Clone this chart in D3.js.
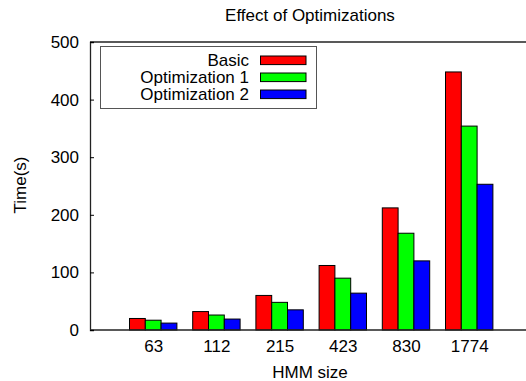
<!DOCTYPE html>
<html><head><meta charset="utf-8">
<script src="https://cdn.jsdelivr.net/npm/d3@7"></script>
<style>body{margin:0;background:#fff}svg{display:block;font-family:"Liberation Sans",Arial,sans-serif}</style>
</head><body><svg id="c" width="526" height="381"></svg>
<script>
const categories = ["63","112","215","423","830","1774"];
const seriesNames = ["Basic","Optimization 1","Optimization 2"];
const basic = [20, 32, 60, 112, 212, 448];
const opt1 = [17, 26, 48, 90, 168, 354];
const opt2 = [12, 19, 35, 64, 120, 253];
const yTicks = [0,100,200,300,400,500];
const colors = ["#ff0000","#00ff00","#0000ff"];
const series = [basic, opt1, opt2];

(function(){
const svg = d3.select("#c");
const fs = 17;
const mLeft = 90, mTop = 42, mBottom = 330;
const x = d3.scaleLinear().domain([-1, 7]).range([mLeft, mLeft + 8*63.2]);
const y = d3.scaleLinear().domain([0, 500]).range([mBottom, mTop]);
const barW = 15.8;

series.forEach((vals, s) => {
  svg.append("g").selectAll("rect").data(vals).join("rect")
    .attr("x", (d,i) => x(i) - 1.5*barW + s*barW)
    .attr("y", d => y(d))
    .attr("width", barW)
    .attr("height", d => y(0) - y(d))
    .attr("fill", colors[s])
    .attr("stroke", "#000").attr("stroke-width", 1);
});

svg.append("line").attr("x1", mLeft).attr("x2", 526).attr("y1", mTop).attr("y2", mTop).attr("stroke","#222").attr("stroke-width",1.3);
svg.append("line").attr("x1", mLeft).attr("x2", 526).attr("y1", mBottom).attr("y2", mBottom).attr("stroke","#222").attr("stroke-width",1.3);

const yAxis = d3.axisLeft(y).tickValues(yTicks).tickSize(-4).tickPadding(11);
const gy = svg.append("g").attr("transform", `translate(${mLeft},0)`).call(yAxis);
gy.select(".domain").attr("stroke","#222").attr("stroke-width",1.3);
gy.selectAll("text").attr("font-size",fs).attr("fill","#000").attr("font-family","Liberation Sans, Arial, sans-serif");

const xAxis = d3.axisBottom(x).tickValues(d3.range(categories.length)).tickFormat(i => categories[i]).tickSize(0).tickPadding(10);
const gx = svg.append("g").attr("transform", `translate(0,${mBottom})`).call(xAxis);
gx.select(".domain").remove();
gx.selectAll("text").attr("font-size",fs).attr("fill","#000").attr("font-family","Liberation Sans, Arial, sans-serif");

svg.append("text").attr("x", 310).attr("y", 21).attr("text-anchor","middle").attr("font-size",fs).text("Effect of Optimizations");
svg.append("text").attr("x", 310).attr("y", 377.5).attr("text-anchor","middle").attr("font-size",fs).text("HMM size");
svg.append("text").attr("transform","translate(26,185) rotate(-90)").attr("text-anchor","middle").attr("font-size",fs).text("Time(s)");

const lg = svg.append("g");
lg.append("rect").attr("x",100.5).attr("y",46.5).attr("width",216).attr("height",62).attr("fill","#fff").attr("stroke","#555").attr("stroke-width",1);
seriesNames.forEach((n, s) => {
  const cy = 60.3 + s*17;
  lg.append("text").attr("x",249).attr("y",cy+6).attr("text-anchor","end").attr("font-size",fs).text(n);
  lg.append("rect").attr("x",260.5).attr("y",cy-4.3).attr("width",45.5).attr("height",8.6).attr("fill",colors[s]).attr("stroke","#000").attr("stroke-width",1);
});
})();
</script></body></html>
